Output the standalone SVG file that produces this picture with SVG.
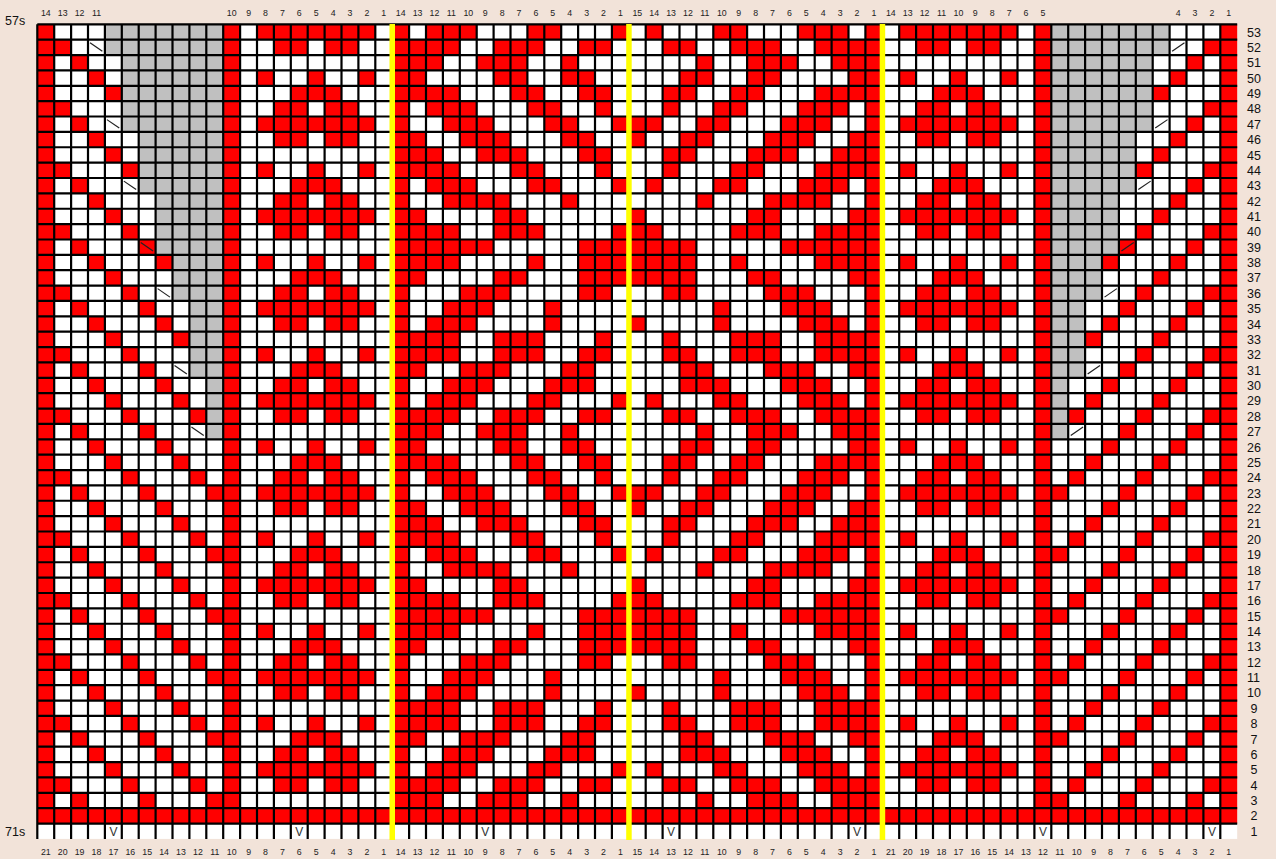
<svg xmlns="http://www.w3.org/2000/svg" width="1276" height="859" viewBox="0 0 1276 859">
<style>
.t{font-family:"Liberation Sans",Arial,sans-serif;font-size:8.8px;fill:#222;text-anchor:middle}
.r{font-family:"Liberation Sans",Arial,sans-serif;font-size:12.5px;fill:#111}
.v{font-family:"Liberation Sans",Arial,sans-serif;font-size:12px;fill:#333;text-anchor:middle}
.s{font-family:"Liberation Sans",Arial,sans-serif;font-size:12.5px;fill:#111}
.red{fill:#FF0000}
.gl{fill:none;stroke:#000;stroke-width:2.2}
.dec{fill:none;stroke:#222;stroke-width:0.07}
.yl{fill:#FFFF00}
</style>
<defs>
<clipPath id="cb" clipPathUnits="userSpaceOnUse"><rect x="0" y="0" width="71" height="51"/></clipPath>
<path id="lat4" class="red" d="M4 0h1v1h-1zM8 0h1v1h-1zM1 1h1v1h-1zM5 1h1v1h-1zM9 1h1v1h-1zM2 2h1v1h-1zM6 2h1v1h-1zM10 2h1v1h-1zM3 3h1v1h-1zM7 3h1v1h-1z"/>
<path id="m6" class="red" d="M13 0h7v1h-7zM14 1h2v1h-2zM17 1h2v1h-2zM13 3h1v1h-1zM16 3h1v1h-1zM19 3h1v1h-1zM15 4h3v1h-3zM14 5h2v1h-2zM17 5h2v1h-2z"/>
<path id="P" class="red" d="M22 0h2v1h-2zM26 0h3v1h-3zM31 0h1v1h-1zM22 1h1v1h-1zM27 1h2v1h-2zM31 1h2v1h-2zM22 2h3v1h-3zM28 2h2v1h-2zM32 2h2v1h-2zM23 3h3v1h-3zM29 3h2v1h-2zM33 3h1v1h-1zM24 4h3v1h-3zM30 4h2v1h-2zM34 4h2v1h-2zM22 5h1v1h-1zM25 5h3v1h-3zM31 5h2v1h-2zM35 5h1v1h-1zM22 6h2v1h-2zM26 6h3v1h-3zM32 6h2v1h-2zM22 7h3v1h-3zM28 7h2v1h-2zM33 7h1v1h-1zM23 8h3v1h-3zM29 8h2v1h-2zM34 8h1v1h-1zM24 9h4v1h-4zM31 9h1v1h-1zM22 10h1v1h-1zM27 10h2v1h-2zM35 10h1v1h-1zM22 11h3v1h-3zM27 11h3v1h-3zM34 11h2v1h-2zM22 12h5v1h-5zM32 12h4v1h-4zM22 13h3v1h-3zM29 13h1v1h-1zM32 13h4v1h-4zM22 14h1v1h-1zM27 14h2v1h-2zM32 14h4v1h-4zM25 15h3v1h-3zM32 15h2v1h-2zM24 16h3v1h-3zM30 16h1v1h-1zM23 17h3v1h-3zM30 17h1v1h-1zM35 17h1v1h-1zM22 18h3v1h-3zM27 18h3v1h-3zM33 18h1v1h-1zM22 19h3v1h-3zM27 19h3v1h-3zM32 19h2v1h-2zM22 20h1v1h-1zM25 20h3v1h-3zM31 20h2v1h-2zM24 21h3v1h-3zM30 21h3v1h-3zM23 22h3v1h-3zM29 22h2v1h-2zM34 22h1v1h-1zM22 23h3v1h-3zM27 23h3v1h-3zM32 23h2v1h-2z"/>
<g id="half">
<rect x="0" y="0" width="1" height="51" class="red"/>
<rect x="11" y="0" width="1" height="51" class="red"/>
<rect x="21" y="0" width="1" height="51" class="red"/>
<g clip-path="url(#cb)">
<use href="#lat4" y="0"/><use href="#lat4" y="4"/><use href="#lat4" y="8"/><use href="#lat4" y="12"/><use href="#lat4" y="16"/><use href="#lat4" y="20"/><use href="#lat4" y="24"/><use href="#lat4" y="28"/><use href="#lat4" y="32"/><use href="#lat4" y="36"/><use href="#lat4" y="40"/><use href="#lat4" y="44"/><use href="#lat4" y="48"/>
<use href="#m6" y="0"/><use href="#m6" y="6"/><use href="#m6" y="12"/><use href="#m6" y="18"/><use href="#m6" y="24"/><use href="#m6" y="30"/><use href="#m6" y="36"/><use href="#m6" y="42"/><use href="#m6" y="48"/>
<use href="#P" y="-22"/><use href="#P" y="2"/><use href="#P" y="26"/><use href="#P" y="50"/>
</g>
<path d="M4 0H11V27H10V23H9V18H8V15H7V11H6V7H5V2H4z" fill="#C0C0C0"/>
<path class="dec" d="M3.12 1.2L3.85 1.75M4.12 6.2L4.85 6.75M5.12 10.2L5.85 10.75M6.12 14.2L6.85 14.75M7.12 17.2L7.85 17.75M8.12 22.2L8.85 22.75M9.12 26.2L9.85 26.75"/>
</g>
</defs>
<rect width="1276" height="859" fill="#F2E3D9"/>
<g id="chart" transform="translate(37.3 24.3) scale(16.9 15.37)">
<rect width="71" height="53" fill="#FFFFFF"/>
<use href="#half"/>
<use href="#half" transform="translate(71 0) scale(-1 1)"/>
<rect x="0" y="51" width="71" height="1" class="red"/>
</g>
<path id="grid" class="gl" d="M37.3 24.3v814.6m16.9-814.6v814.6m16.9-814.6v814.6m16.9-814.6v814.6m16.9-814.6v814.6m16.9-814.6v814.6m16.9-814.6v814.6m16.9-814.6v814.6m16.9-814.6v814.6m16.9-814.6v814.6m16.9-814.6v814.6m16.9-814.6v814.6m16.9-814.6v814.6m16.9-814.6v814.6m16.9-814.6v814.6m16.9-814.6v814.6m16.9-814.6v814.6m16.9-814.6v814.6m16.9-814.6v814.6m16.9-814.6v814.6m16.9-814.6v814.6m16.9-814.6v814.6m16.9-814.6v814.6m16.9-814.6v814.6m16.9-814.6v814.6m16.9-814.6v814.6m16.9-814.6v814.6m16.9-814.6v814.6m16.9-814.6v814.6m16.9-814.6v814.6m16.9-814.6v814.6m16.9-814.6v814.6m16.9-814.6v814.6m16.9-814.6v814.6m16.9-814.6v814.6m16.9-814.6v814.6m16.9-814.6v814.6m16.9-814.6v814.6m16.9-814.6v814.6m16.9-814.6v814.6m16.9-814.6v814.6m16.9-814.6v814.6m16.9-814.6v814.6m16.9-814.6v814.6m16.9-814.6v814.6m16.9-814.6v814.6m16.9-814.6v814.6m16.9-814.6v814.6m16.9-814.6v814.6m16.9-814.6v814.6m16.9-814.6v814.6m16.9-814.6v814.6m16.9-814.6v814.6m16.9-814.6v814.6m16.9-814.6v814.6m16.9-814.6v814.6m16.9-814.6v814.6m16.9-814.6v814.6m16.9-814.6v814.6m16.9-814.6v814.6m16.9-814.6v814.6m16.9-814.6v814.6m16.9-814.6v814.6m16.9-814.6v814.6m16.9-814.6v814.6m16.9-814.6v814.6m16.9-814.6v814.6m16.9-814.6v814.6m16.9-814.6v814.6m16.9-814.6v814.6m16.9-814.6v814.6M37.3 24.3h1199.9m-1199.9 15.37h1199.9m-1199.9 15.37h1199.9m-1199.9 15.37h1199.9m-1199.9 15.37h1199.9m-1199.9 15.37h1199.9m-1199.9 15.37h1199.9m-1199.9 15.37h1199.9m-1199.9 15.37h1199.9m-1199.9 15.37h1199.9m-1199.9 15.37h1199.9m-1199.9 15.37h1199.9m-1199.9 15.37h1199.9m-1199.9 15.37h1199.9m-1199.9 15.37h1199.9m-1199.9 15.37h1199.9m-1199.9 15.37h1199.9m-1199.9 15.37h1199.9m-1199.9 15.37h1199.9m-1199.9 15.37h1199.9m-1199.9 15.37h1199.9m-1199.9 15.37h1199.9m-1199.9 15.37h1199.9m-1199.9 15.37h1199.9m-1199.9 15.37h1199.9m-1199.9 15.37h1199.9m-1199.9 15.37h1199.9m-1199.9 15.37h1199.9m-1199.9 15.37h1199.9m-1199.9 15.37h1199.9m-1199.9 15.37h1199.9m-1199.9 15.37h1199.9m-1199.9 15.37h1199.9m-1199.9 15.37h1199.9m-1199.9 15.37h1199.9m-1199.9 15.37h1199.9m-1199.9 15.37h1199.9m-1199.9 15.37h1199.9m-1199.9 15.37h1199.9m-1199.9 15.37h1199.9m-1199.9 15.37h1199.9m-1199.9 15.37h1199.9m-1199.9 15.37h1199.9m-1199.9 15.37h1199.9m-1199.9 15.37h1199.9m-1199.9 15.37h1199.9m-1199.9 15.37h1199.9m-1199.9 15.37h1199.9m-1199.9 15.37h1199.9m-1199.9 15.37h1199.9m-1199.9 15.37h1199.9m-1199.9 15.37h1199.9m-1199.9 15.37h1199.9"/>
<g id="yellow">
<rect class="yl" x="389.5" y="24" width="5.5" height="816"/>
<rect class="yl" x="626.2" y="24" width="5.5" height="816"/>
<rect class="yl" x="879.7" y="24" width="5.5" height="816"/>
</g>
<g id="stitchV" class="v">
<text x="113.4" y="835.5">V</text><text x="299.3" y="835.5">V</text><text x="485.2" y="835.5">V</text><text x="671.1" y="835.5">V</text><text x="857.0" y="835.5">V</text><text x="1042.9" y="835.5">V</text><text x="1211.9" y="835.5">V</text>
</g>
<g id="sideLabels" class="s">
<text x="5" y="25">57s</text>
<text x="5" y="836">71s</text>
</g>
<g id="topLabels" class="t">
<text x="45.8" y="16">14</text><text x="62.7" y="16">13</text><text x="79.6" y="16">12</text><text x="96.5" y="16">11</text>
<text x="231.7" y="16">10</text><text x="248.6" y="16">9</text><text x="265.5" y="16">8</text><text x="282.4" y="16">7</text><text x="299.3" y="16">6</text><text x="316.2" y="16">5</text><text x="333.1" y="16">4</text><text x="350.0" y="16">3</text><text x="366.9" y="16">2</text><text x="383.8" y="16">1</text>
<text x="400.7" y="16">14</text><text x="417.6" y="16">13</text><text x="434.5" y="16">12</text><text x="451.4" y="16">11</text><text x="468.3" y="16">10</text><text x="485.2" y="16">9</text><text x="502.1" y="16">8</text><text x="519.0" y="16">7</text><text x="535.9" y="16">6</text><text x="552.8" y="16">5</text><text x="569.7" y="16">4</text><text x="586.6" y="16">3</text><text x="603.5" y="16">2</text><text x="620.4" y="16">1</text>
<text x="637.3" y="16">15</text><text x="654.2" y="16">14</text><text x="671.1" y="16">13</text><text x="688.0" y="16">12</text><text x="704.9" y="16">11</text><text x="721.8" y="16">10</text><text x="738.7" y="16">9</text><text x="755.6" y="16">8</text><text x="772.5" y="16">7</text><text x="789.4" y="16">6</text><text x="806.3" y="16">5</text><text x="823.2" y="16">4</text><text x="840.1" y="16">3</text><text x="857.0" y="16">2</text><text x="873.9" y="16">1</text>
<text x="890.8" y="16">14</text><text x="907.7" y="16">13</text><text x="924.6" y="16">12</text><text x="941.5" y="16">11</text><text x="958.4" y="16">10</text><text x="975.3" y="16">9</text><text x="992.2" y="16">8</text><text x="1009.1" y="16">7</text><text x="1026.0" y="16">6</text><text x="1042.9" y="16">5</text>
<text x="1178.1" y="16">4</text><text x="1195.0" y="16">3</text><text x="1211.9" y="16">2</text><text x="1228.8" y="16">1</text>
</g>
<g id="bottomLabels" class="t">
<text x="45.8" y="855">21</text><text x="62.7" y="855">20</text><text x="79.6" y="855">19</text><text x="96.5" y="855">18</text><text x="113.4" y="855">17</text><text x="130.3" y="855">16</text><text x="147.2" y="855">15</text><text x="164.1" y="855">14</text><text x="181.0" y="855">13</text><text x="197.9" y="855">12</text><text x="214.8" y="855">11</text><text x="231.7" y="855">10</text><text x="248.6" y="855">9</text><text x="265.5" y="855">8</text><text x="282.4" y="855">7</text><text x="299.3" y="855">6</text><text x="316.2" y="855">5</text><text x="333.1" y="855">4</text><text x="350.0" y="855">3</text><text x="366.9" y="855">2</text><text x="383.8" y="855">1</text>
<text x="400.7" y="855">14</text><text x="417.6" y="855">13</text><text x="434.5" y="855">12</text><text x="451.4" y="855">11</text><text x="468.3" y="855">10</text><text x="485.2" y="855">9</text><text x="502.1" y="855">8</text><text x="519.0" y="855">7</text><text x="535.9" y="855">6</text><text x="552.8" y="855">5</text><text x="569.7" y="855">4</text><text x="586.6" y="855">3</text><text x="603.5" y="855">2</text><text x="620.4" y="855">1</text>
<text x="637.3" y="855">15</text><text x="654.2" y="855">14</text><text x="671.1" y="855">13</text><text x="688.0" y="855">12</text><text x="704.9" y="855">11</text><text x="721.8" y="855">10</text><text x="738.7" y="855">9</text><text x="755.6" y="855">8</text><text x="772.5" y="855">7</text><text x="789.4" y="855">6</text><text x="806.3" y="855">5</text><text x="823.2" y="855">4</text><text x="840.1" y="855">3</text><text x="857.0" y="855">2</text><text x="873.9" y="855">1</text>
<text x="890.8" y="855">21</text><text x="907.7" y="855">20</text><text x="924.6" y="855">19</text><text x="941.5" y="855">18</text><text x="958.4" y="855">17</text><text x="975.3" y="855">16</text><text x="992.2" y="855">15</text><text x="1009.1" y="855">14</text><text x="1026.0" y="855">13</text><text x="1042.9" y="855">12</text><text x="1059.8" y="855">11</text><text x="1076.7" y="855">10</text><text x="1093.6" y="855">9</text><text x="1110.5" y="855">8</text><text x="1127.4" y="855">7</text><text x="1144.3" y="855">6</text><text x="1161.2" y="855">5</text><text x="1178.1" y="855">4</text><text x="1195.0" y="855">3</text><text x="1211.9" y="855">2</text><text x="1228.8" y="855">1</text>
</g>
<g id="rowLabels" class="r">
<text x="1247" y="36.5">53</text><text x="1247" y="51.9">52</text><text x="1247" y="67.2">51</text><text x="1247" y="82.6">50</text><text x="1247" y="98.0">49</text><text x="1247" y="113.4">48</text><text x="1247" y="128.7">47</text><text x="1247" y="144.1">46</text><text x="1247" y="159.5">45</text><text x="1247" y="174.8">44</text><text x="1247" y="190.2">43</text><text x="1247" y="205.6">42</text><text x="1247" y="220.9">41</text><text x="1247" y="236.3">40</text><text x="1247" y="251.7">39</text><text x="1247" y="267.1">38</text><text x="1247" y="282.4">37</text><text x="1247" y="297.8">36</text><text x="1247" y="313.2">35</text><text x="1247" y="328.5">34</text><text x="1247" y="343.9">33</text><text x="1247" y="359.3">32</text><text x="1247" y="374.6">31</text><text x="1247" y="390.0">30</text><text x="1247" y="405.4">29</text><text x="1247" y="420.8">28</text><text x="1247" y="436.1">27</text><text x="1247" y="451.5">26</text><text x="1247" y="466.9">25</text><text x="1247" y="482.2">24</text><text x="1247" y="497.6">23</text><text x="1247" y="513.0">22</text><text x="1247" y="528.3">21</text><text x="1247" y="543.7">20</text><text x="1247" y="559.1">19</text><text x="1247" y="574.5">18</text><text x="1247" y="589.8">17</text><text x="1247" y="605.2">16</text><text x="1247" y="620.6">15</text><text x="1247" y="635.9">14</text><text x="1247" y="651.3">13</text><text x="1247" y="666.7">12</text><text x="1247" y="682.0">11</text><text x="1247" y="697.4">10</text><text x="1250.5" y="712.8">9</text><text x="1250.5" y="728.2">8</text><text x="1250.5" y="743.5">7</text><text x="1250.5" y="758.9">6</text><text x="1250.5" y="774.3">5</text><text x="1250.5" y="789.6">4</text><text x="1250.5" y="805.0">3</text><text x="1250.5" y="820.4">2</text><text x="1250.5" y="835.7">1</text>
</g>
</svg>
